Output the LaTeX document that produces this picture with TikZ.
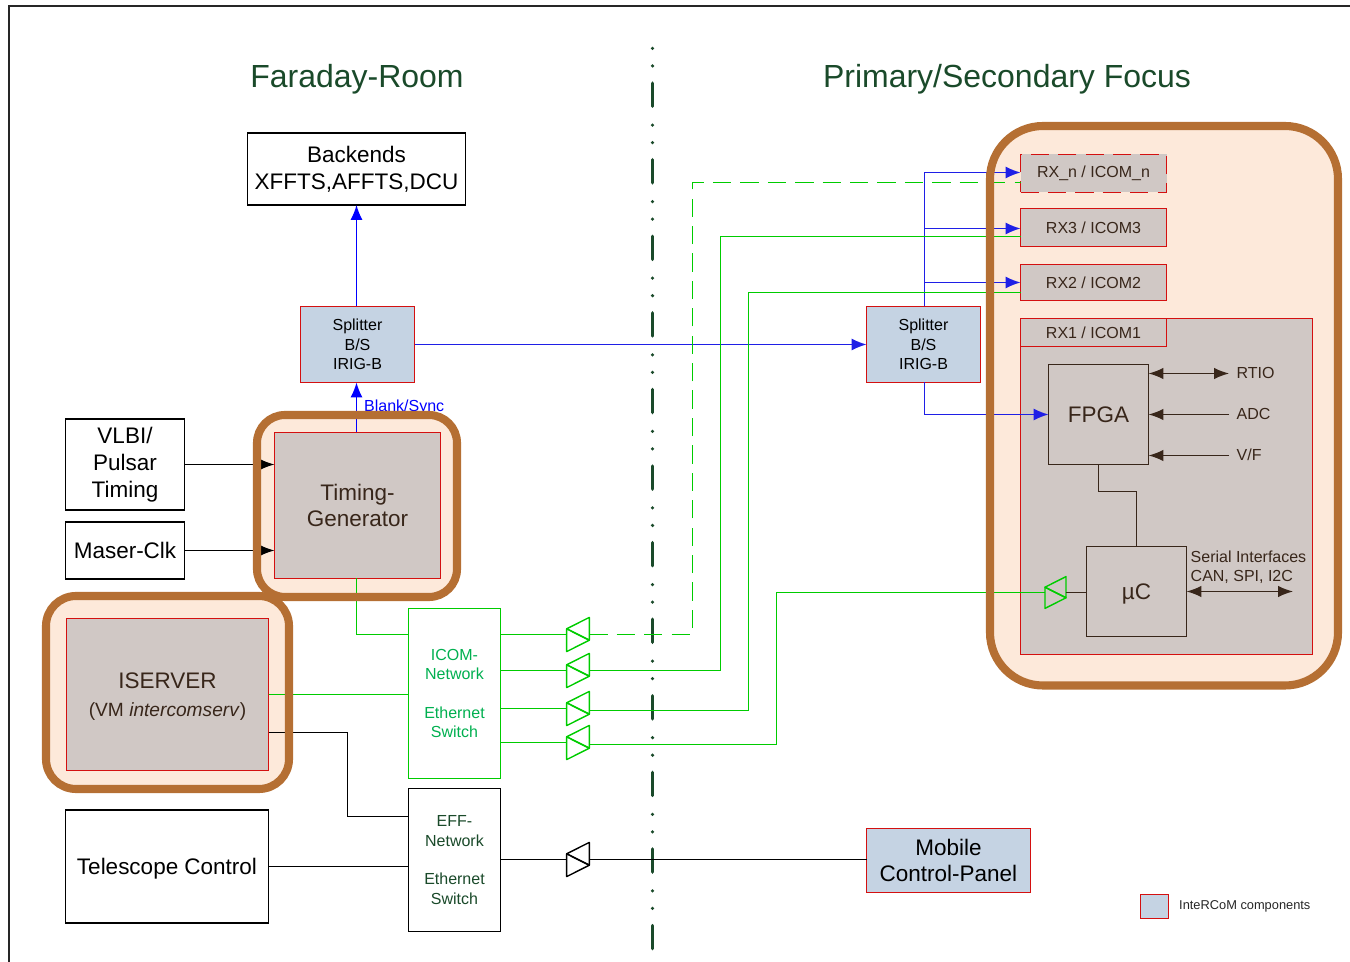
\documentclass[tikz,border=0pt]{standalone}
\usepackage{fontspec}
\setmainfont{Liberation Sans}
\usetikzlibrary{arrows.meta}
\definecolor{haloline}{HTML}{B56F33}
\definecolor{halofill}{HTML}{FDE9DA}
\definecolor{partgray}{HTML}{D0C8C5}
\definecolor{partblue}{HTML}{C5D3E3}
\definecolor{partred}{HTML}{D41010}
\definecolor{darktext}{HTML}{38261A}
\definecolor{titlegreen}{HTML}{1A4A2A}
\definecolor{netgreen}{HTML}{00CC00}
\definecolor{nettext}{HTML}{00B050}
\definecolor{sigblue}{HTML}{1F1FE6}
\newcommand{\fsbig}{\fontsize{6.4}{7.6}\selectfont}
\newcommand{\fssmall}{\fontsize{4.55}{5.55}\selectfont}
\tikzset{
  box/.style={draw, line width=0.4pt, inner sep=0pt, outer sep=0pt, align=center, font=\fsbig},
  plainbox/.style={box, draw=black, fill=white},
  bluepart/.style={box, draw=partred, fill=partblue},
  graypart/.style={box, draw=partred, fill=partgray, text=darktext},
  chip/.style={box, draw=darktext, fill=partgray, text=darktext},
  halo/.style={line width=2.3pt, draw=haloline},
  sig/.style={draw=sigblue, line width=0.38pt, -{Latex[length=4.2pt,width=3.4pt]}},
  net/.style={draw=netgreen, line width=0.38pt},
  wire/.style={draw=black, line width=0.36pt},
  chipwire/.style={draw=darktext, line width=0.36pt},
  tip/.style={-{Latex[length=4.2pt,width=3.2pt]}},
  both/.style={{Latex[length=4.2pt,width=3.2pt]}-{Latex[length=4.2pt,width=3.2pt]}},
  gate/.pic={
    \draw[line width=0.4pt, line join=round] (-0.113,0.057) -- (-0.113,-0.171) -- (0.113,-0.057) -- cycle;
    \draw[line width=0.4pt, line join=round] (0.113,0.171) -- (0.113,-0.057) -- (-0.113,0.057) -- cycle;
    \coordinate (-in) at (-0.113,0);
    \coordinate (-out) at (0.113,0);
  }
}
\begin{document}
\begin{tikzpicture}
  \useasboundingbox (0,0) rectangle (13.5,-9.62);
  \draw[line width=0.6pt, black!85] (0.09,-9.7) -- (0.09,-0.06) -- (13.6,-0.06);
  % titles
  \node[text=titlegreen, font=\fontsize{9.1}{10}\selectfont] (faraday) at (3.57,-0.79) {Faraday-Room};
  \node[text=titlegreen, font=\fontsize{9.1}{10}\selectfont] (focus) at (10.07,-0.79) {Primary/Secondary Focus};
  % room divider
  \draw[titlegreen, line width=1pt, line cap=round, dash pattern=on 0pt off 4.98pt on 0pt off 4.88pt on 6.57pt off 5.36pt] (6.525,-0.485) -- (6.525,-9.5);
  \node[text=blue, font=\fssmall, anchor=west, inner sep=0pt] (blank) at (3.635,-4.07) {Blank/Sync};
  % halo backgrounds
  \fill[halofill, rounded corners=0.28cm] (2.57,-4.15) rectangle (4.57,-5.97);
  \fill[halofill, rounded corners=0.3cm] (0.46,-5.96) rectangle (2.89,-7.89);
  \fill[halofill, rounded corners=0.53cm] (9.9,-1.26) rectangle (13.38,-6.855);
  % boxes
  \node[plainbox, minimum width=2.18cm, minimum height=0.72cm] (backends) at (3.565,-1.69) {Backends\\XFFTS,AFFTS,DCU};
  \node[bluepart, font=\fssmall, minimum width=1.14cm, minimum height=0.76cm] (splitl) at (3.575,-3.445) {Splitter\\B/S\\IRIG-B};
  \node[bluepart, font=\fssmall, minimum width=1.14cm, minimum height=0.76cm] (splitr) at (9.235,-3.445) {Splitter\\B/S\\IRIG-B};
  \node[graypart, minimum width=1.66cm, minimum height=1.46cm] (timing) at (3.575,-5.055) {Timing-\\Generator};
  \node[plainbox, minimum width=1.19cm, minimum height=0.91cm] (vlbi) at (1.25,-4.645) {VLBI/\\Pulsar\\Timing};
  \node[plainbox, minimum width=1.19cm, minimum height=0.57cm] (maser) at (1.25,-5.505) {Maser-Clk};
  \node[graypart, text depth=0pt, minimum width=2.02cm, minimum height=1.52cm] (iserver) at (1.675,-6.945) {ISERVER\\[0.4pt]{\fontsize{5.45}{6}\selectfont (VM \textit{intercomserv})}};
  \node[plainbox, text depth=0pt, minimum width=2.03cm, minimum height=1.13cm] (telescope) at (1.67,-8.665) {Telescope Control};
  \node[box, draw=netgreen, fill=white, text=nettext, font=\fssmall, minimum width=0.92cm, minimum height=1.7cm] (icom) at (4.545,-6.935) {ICOM-\\Network\\[5.5pt]Ethernet\\Switch};
  \node[box, draw=black, fill=white, text=titlegreen, font=\fssmall, minimum width=0.92cm, minimum height=1.43cm] (eff) at (4.545,-8.6) {EFF-\\Network\\[5.5pt]Ethernet\\Switch};
  \node[bluepart, minimum width=1.64cm, minimum height=0.64cm] (mobile) at (9.485,-8.605) {Mobile\\Control-Panel};
  \node[bluepart, minimum width=0.28cm, minimum height=0.24cm] (legend) at (11.545,-9.065) {};
  \node[anchor=west, inner sep=0pt, text=black!85, font=\fontsize{3.65}{4}\selectfont] (legendtext) at (11.785,-9.06) {InteRCoM components};
  % right side parts
  \node[graypart, minimum width=2.92cm, minimum height=3.36cm] (rxone) at (11.665,-4.865) {};
  \node[graypart, font=\fssmall, minimum width=1.46cm, minimum height=0.28cm] (rxonehead) at (10.935,-3.325) {RX1 / ICOM1};
  \node[graypart, font=\fssmall, minimum width=1.46cm, minimum height=0.36cm] (rxtwo) at (10.935,-2.825) {RX2 / ICOM2};
  \node[graypart, font=\fssmall, minimum width=1.46cm, minimum height=0.38cm] (rxthree) at (10.935,-2.275) {RX3 / ICOM3};
  \node[graypart, dashed, dash pattern=on 5.2pt off 2.6pt, font=\fssmall, minimum width=1.46cm, minimum height=0.38cm] (rxn) at (10.935,-1.735) {RX\_n / ICOM\_n};
  \node[chip, minimum width=1cm, minimum height=1cm] (fpga) at (10.985,-4.145) {FPGA};
  \node[chip, text depth=0pt, minimum width=1cm, minimum height=0.9cm] (uc) at (11.365,-5.915) {µC};
  \node[anchor=west, inner sep=0pt, text=darktext, font=\fssmall] (rtio) at (12.36,-3.73) {RTIO};
  \node[anchor=west, inner sep=0pt, text=darktext, font=\fssmall] (adc) at (12.36,-4.14) {ADC};
  \node[anchor=west, inner sep=0pt, text=darktext, font=\fssmall] (vf) at (12.36,-4.55) {V/F};
  \node[anchor=west, inner sep=0pt, text=darktext, font=\fssmall, align=left] (serial) at (11.9,-5.67) {Serial Interfaces\\CAN, SPI, I2C};
  % gates
  \pic[netgreen] (g1) at (5.78,-6.345) {gate};
  \pic[netgreen] (g2) at (5.78,-6.705) {gate};
  \pic[netgreen] (g3) at (5.78,-7.085) {gate};
  \pic[netgreen] (g4) at (5.78,-7.425) {gate};
  \pic[black] (g5) at (5.78,-8.595) {gate};
  \pic[netgreen, scale=0.93] (g6) at (10.555,-5.925) {gate};
  % blue signals
  \coordinate (upl) at (3.565,-3.445);
  \draw[sig, blue] (upl |- splitl.north) -- (upl |- backends.south);
  \draw[sig, blue] (upl |- timing.north) -- (upl |- splitl.south);
  \draw[sig] (splitl.east) -- (splitr.west);
  \coordinate (forktop) at (9.245,-1.725);
  \coordinate (forkthree) at (9.245,-2.285);
  \coordinate (forktwo) at (9.245,-2.825);
  \draw[sig] (forktop |- splitr.north) -- (forktop) -- (rxn.west |- forktop);
  \draw[sig] (forkthree) -- (rxthree.west |- forkthree);
  \draw[sig] (forktwo) -- (rxtwo.west);
  \draw[sig] (forktop |- splitr.south) -- (forktop |- fpga.west) -- (fpga.west);
  % green network
  \coordinate (tgdown) at (3.565,-6.345);
  \draw[net] (tgdown |- timing.south) -- (tgdown) -- (icom.west |- tgdown);
  \draw[net] (iserver.east) -- (icom.west |- iserver.east);
  \draw[net] (icom.east |- g1-in) -- (g1-in);
  \draw[net] (icom.east |- g2-in) -- (g2-in);
  \draw[net] (icom.east |- g3-in) -- (g3-in);
  \draw[net] (icom.east |- g4-in) -- (g4-in);
  \coordinate (wn) at (6.925,-6.345);
  \coordinate (wnup) at (6.925,-1.825);
  \draw[net, dash pattern=on 5.2pt off 2.6pt] (g1-out) -- (wn) -- (wnup) -- (rxn.west |- wnup);
  \coordinate (wthree) at (7.205,-6.705);
  \coordinate (wthreeup) at (7.205,-2.365);
  \draw[net] (g2-out) -- (wthree) -- (wthreeup) -- (rxthree.west |- wthreeup);
  \coordinate (wtwo) at (7.485,-7.105);
  \coordinate (wtwoup) at (7.485,-2.925);
  \draw[net] (g3-out |- wtwo) -- (wtwo) -- (wtwoup) -- (rxtwo.west |- wtwoup);
  \coordinate (wone) at (7.765,-7.445);
  \coordinate (woneup) at (7.765,-5.925);
  \draw[net] (g4-out |- wone) -- (wone) -- (woneup) -- (g6-in);
  % black wires
  \coordinate (vlbiout) at (1.845,-4.645);
  \draw[wire, tip] (vlbiout) -- (timing.west |- vlbiout);
  \coordinate (maserout) at (1.845,-5.505);
  \draw[wire, tip] (maserout) -- (timing.west |- maserout);
  \coordinate (isveff) at (2.685,-7.325);
  \coordinate (isvbend) at (3.475,-7.325);
  \coordinate (effin) at (3.475,-8.165);
  \draw[wire] (isveff) -- (isvbend) -- (effin) -- (eff.west |- effin);
  \draw[wire] (telescope.east) -- (eff.west |- telescope.east);
  \draw[wire] (eff.east |- g5-in) -- (g5-in);
  \draw[wire] (g5-out) -- (mobile.west |- g5-out);
  % chip wires
  \coordinate (bendl) at (10.985,-4.915);
  \coordinate (bendr) at (11.365,-4.915);
  \draw[chipwire] (fpga.south) -- (bendl) -- (bendr) -- (uc.north);
  \coordinate (rtioend) at (12.29,-3.735);
  \draw[chipwire, both] (fpga.east |- rtioend) -- (rtioend);
  \coordinate (adcend) at (12.29,-4.145);
  \draw[chipwire, tip] (adcend) -- (fpga.east);
  \coordinate (vfend) at (12.29,-4.555);
  \draw[chipwire, tip] (vfend) -- (fpga.east |- vfend);
  \coordinate (serialend) at (12.93,-5.915);
  \draw[chipwire, both] (uc.east) -- (serialend);
  \draw[chipwire] (g6-out) -- (uc.west |- g6-out);
  % halo outlines
  \draw[halo, rounded corners=0.28cm] (2.57,-4.15) rectangle (4.57,-5.97);
  \draw[halo, rounded corners=0.3cm] (0.46,-5.96) rectangle (2.89,-7.89);
  \draw[halo, rounded corners=0.53cm] (9.9,-1.26) rectangle (13.38,-6.855);
\end{tikzpicture}
\end{document}
